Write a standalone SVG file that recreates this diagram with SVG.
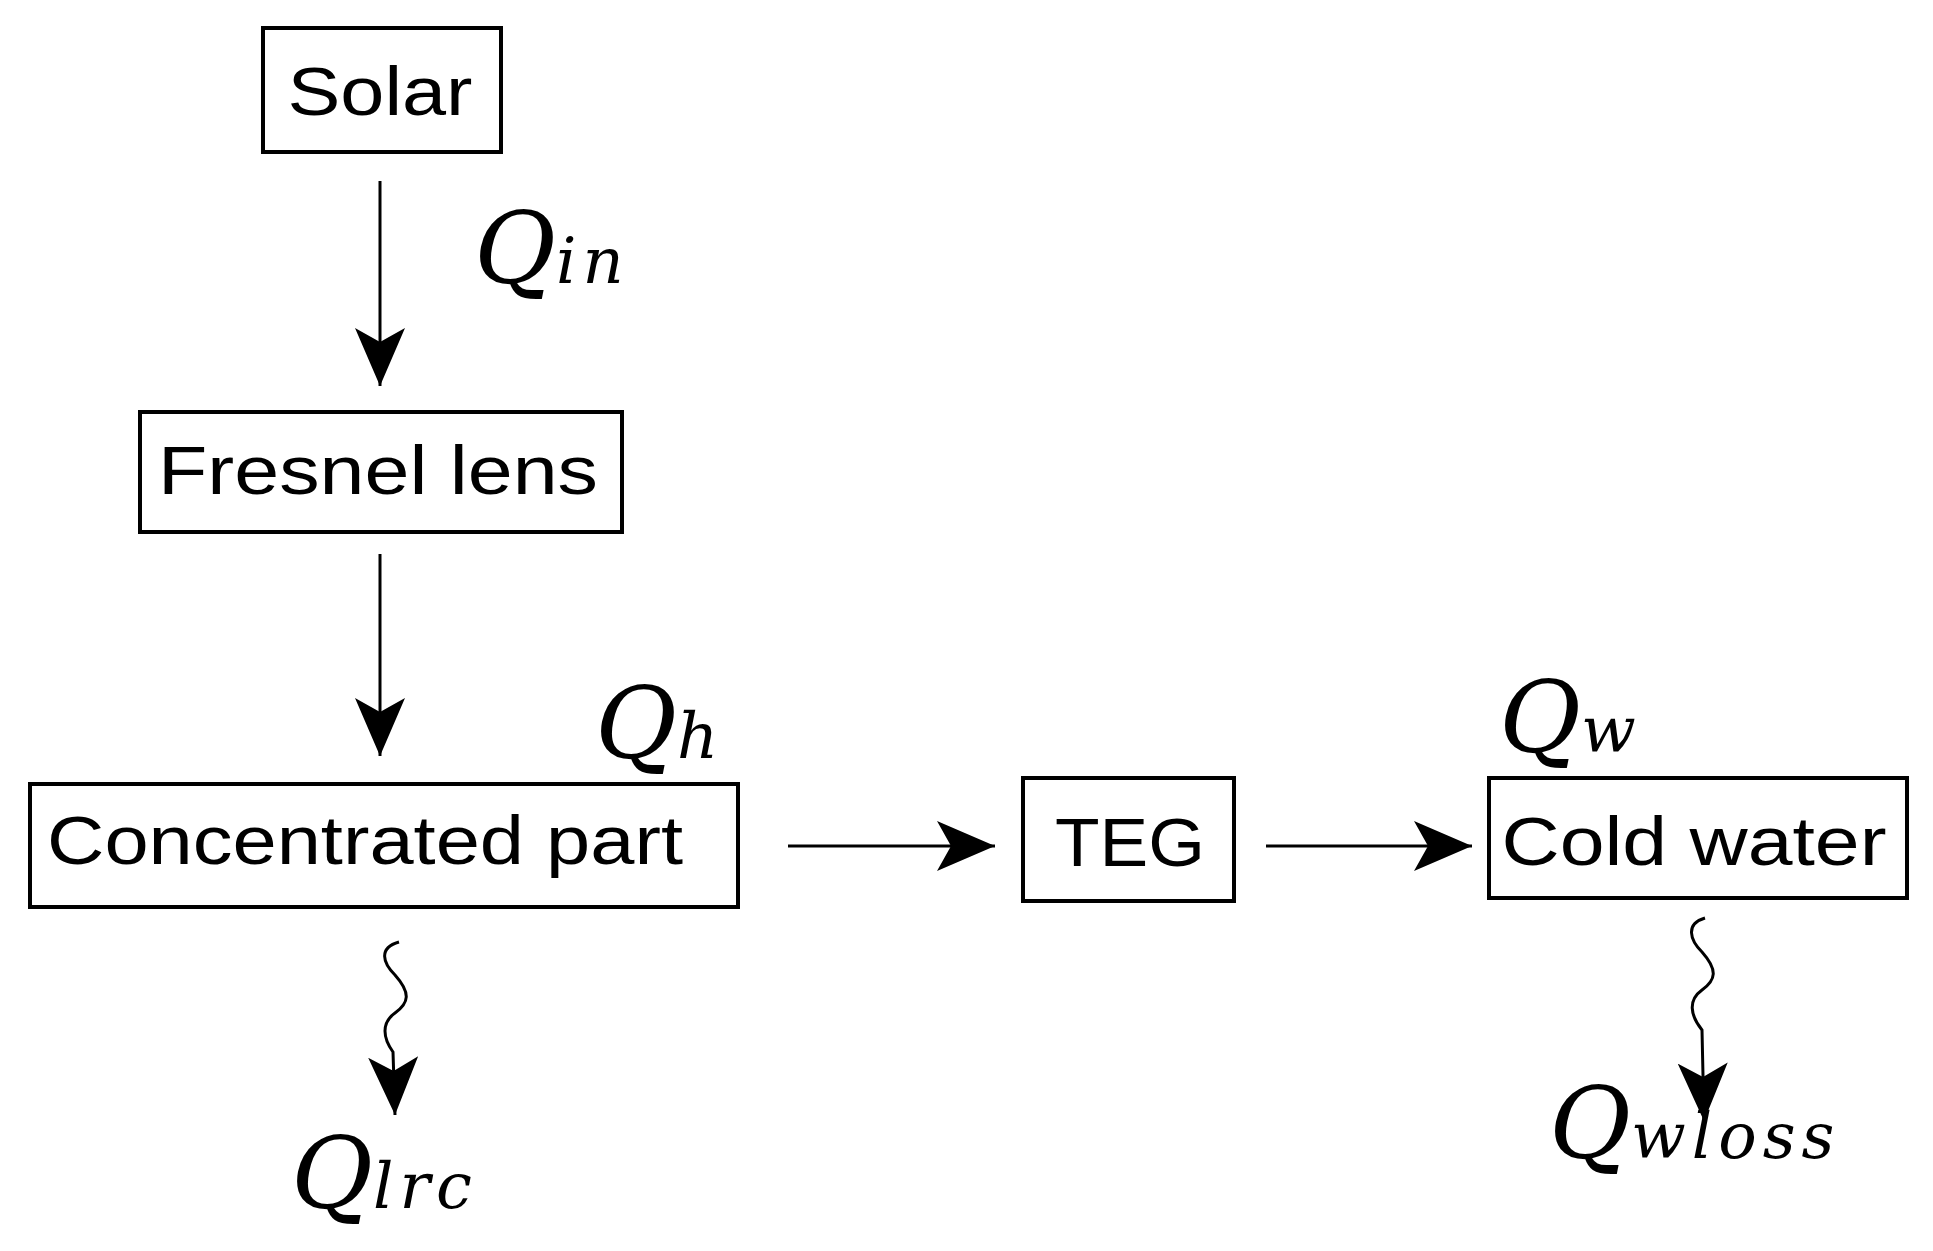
<svg xmlns="http://www.w3.org/2000/svg" width="1933" height="1251" viewBox="0 0 1933 1251">
<style>
.box{fill:none;stroke:#000;stroke-width:4}
.t{font-family:"Liberation Sans",Arial,sans-serif;font-size:68px;fill:#000}
.m{font-family:"DejaVu Serif","Liberation Serif",serif;font-style:italic;fill:#000;font-size:100px}
.s{font-size:64px;letter-spacing:6px}
.ln{fill:none;stroke:#000;stroke-width:3}
</style>
<defs>
<marker id="ah" markerWidth="60" markerHeight="50" refX="58" refY="25" orient="auto" markerUnits="userSpaceOnUse">
<path d="M0,0 L58,25 L0,50 L14,25 Z" fill="#000"/>
</marker>
</defs>
<rect width="1933" height="1251" fill="#fff"/>
<g id="solar"><rect class="box" x="263" y="28" width="238" height="124"/><text class="t" x="380" y="115" text-anchor="middle" textLength="185" lengthAdjust="spacingAndGlyphs">Solar</text></g>
<g id="fresnel"><rect class="box" x="140" y="412" width="482" height="120"/><text class="t" x="378" y="494" text-anchor="middle" textLength="440" lengthAdjust="spacingAndGlyphs">Fresnel lens</text></g>
<g id="concentrated"><rect class="box" x="30" y="784" width="708" height="123"/><text class="t" x="365" y="864" text-anchor="middle" textLength="636" lengthAdjust="spacingAndGlyphs">Concentrated part</text></g>
<g id="teg"><rect class="box" x="1023" y="778" width="211" height="123"/><text class="t" x="1130" y="866" text-anchor="middle" textLength="150" lengthAdjust="spacingAndGlyphs">TEG</text></g>
<g id="coldwater"><rect class="box" x="1489" y="778" width="418" height="120"/><text class="t" x="1694" y="865" text-anchor="middle" textLength="385" lengthAdjust="spacingAndGlyphs">Cold water</text></g>
<g id="connectors">
<line class="ln" x1="380" y1="181" x2="380" y2="386" marker-end="url(#ah)"/>
<line class="ln" x1="380" y1="554" x2="380" y2="756" marker-end="url(#ah)"/>
<line class="ln" x1="788" y1="846" x2="995" y2="846" marker-end="url(#ah)"/>
<line class="ln" x1="1266" y1="846" x2="1472" y2="846" marker-end="url(#ah)"/>
<path class="ln" d="M399,942 C378,948 383,963 395,975 C411,993 409,1003 395,1013 C381,1023 383,1038 393,1052 L395,1115" marker-end="url(#ah)"/>
<path class="ln" d="M1705,918 C1685,924 1690,940 1702,952 C1718,970 1716,980 1702,990 C1688,1000 1690,1015 1702,1030 L1704,1121" marker-end="url(#ah)"/>
</g>
<g id="labels">
<text class="m" x="474" y="283">Q<tspan class="s">in</tspan></text>
<text class="m" x="595" y="758">Q<tspan class="s">h</tspan></text>
<text class="m" x="1499" y="752">Q<tspan class="s">w</tspan></text>
<text class="m" x="291" y="1208">Q<tspan class="s">lrc</tspan></text>
<text class="m" x="1549" y="1158">Q<tspan class="s">wloss</tspan></text>
</g>
</svg>
